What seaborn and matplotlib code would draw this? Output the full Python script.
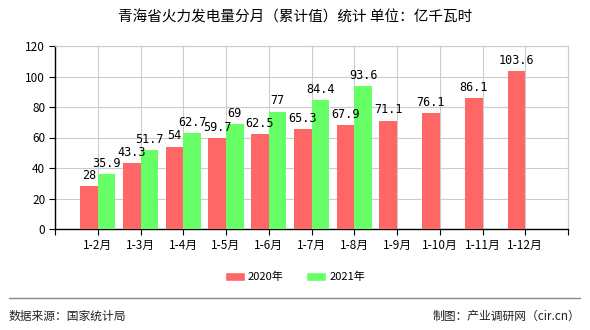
import matplotlib
matplotlib.use("Agg")
import matplotlib.pyplot as plt
import seaborn as sns
import pandas as pd
import numpy as np

categories = ["1-2月", "1-3月", "1-4月", "1-5月", "1-6月", "1-7月", "1-8月", "1-9月", "1-10月", "1-11月", "1-12月"]
series_2020 = [28, 43.3, 54, 59.7, 62.5, 65.3, 67.9, 71.1, 76.1, 86.1, 103.6]
series_2021 = [35.9, 51.7, 62.7, 69, 77, 84.4, 93.6, None, None, None, None]
series_names = ["2020年", "2021年"]
y_ticks = [0, 20, 40, 60, 80, 100, 120]
colors = ["#FF6666", "#66FF66"]

sns.set_theme(style="white")
plt.rcParams['font.family'] = ['Noto Sans CJK SC', 'DejaVu Sans']
plt.rcParams['text.color'] = 'black'
plt.rcParams['xtick.color'] = 'black'
plt.rcParams['ytick.color'] = 'black'
plt.rcParams['xtick.labelcolor'] = 'black'
plt.rcParams['ytick.labelcolor'] = 'black'

rows = []
for c, a, b in zip(categories, series_2020, series_2021):
    rows.append({"cat": c, "val": a, "series": series_names[0]})
    rows.append({"cat": c, "val": np.nan if b is None else b, "series": series_names[1]})
df = pd.DataFrame(rows)

fig = plt.figure(figsize=(5.9, 3.3), dpi=100)
ax = fig.add_axes([55/590, 1-229/330, (568-55)/590, (229-46)/330])

sns.barplot(data=df, x="cat", y="val", hue="series", order=categories,
            hue_order=series_names, palette=colors, width=0.82, saturation=1,
            ax=ax, legend=False, zorder=3, linewidth=0, edgecolor="none")

ax.set_xlim(-1, 11)
ax.set_ylim(0, 120)
ax.set_yticks(y_ticks)
ax.set_xticks(range(-1, 12))
ax.set_xticklabels([""] + categories + [""])
ax.set_xlabel("")
ax.set_ylabel("")
ax.grid(True, color="#cccccc", linewidth=0.8, zorder=0)
ax.set_axisbelow(True)
for s in ["top", "right"]:
    ax.spines[s].set_color("#cccccc")
    ax.spines[s].set_linewidth(0.8)
for s in ["left", "bottom"]:
    ax.spines[s].set_color("black")
    ax.spines[s].set_linewidth(1.0)
ax.tick_params(axis="both", which="both", direction="out", length=4, width=0.8,
               color="black", labelcolor="black", labelsize=8.5, pad=3,
               bottom=True, left=True)

for cont in ax.containers:
    labels = []
    for bar in cont:
        h = bar.get_height()
        labels.append("" if (h is None or np.isnan(h)) else f"{h:g}")
    ax.bar_label(cont, labels=labels, padding=3, fontsize=8.5, color="black",
                 family=['DejaVu Sans Mono', 'Noto Sans CJK SC'])

fig.text(0.5, 1-17/330, "青海省火力发电量分月（累计值）统计 单位：亿千瓦时",
         ha="center", va="center", fontsize=10.5, color="black")

# legend
from matplotlib.patches import Patch
handles = [Patch(facecolor=colors[0]), Patch(facecolor=colors[1])]
fig.legend(handles, series_names, loc="center", bbox_to_anchor=(0.5, 1-277/330),
           ncol=2, frameon=False, fontsize=8, handlelength=1.8, handleheight=0.8,
           columnspacing=2.0, handletextpad=0.3, labelcolor="black")

fig.add_artist(plt.Line2D([9/590, 580/590], [1-298/330, 1-298/330],
                          color="#888888", linewidth=1))
fig.text(9/590, 1-316/330, "数据来源：国家统计局", ha="left", va="center", fontsize=8.5, color="#222222")
fig.text(580/590, 1-316/330, "制图：产业调研网（cir.cn）", ha="right", va="center", fontsize=8.5, color="#222222")

fig.savefig("out.png", dpi=100)
